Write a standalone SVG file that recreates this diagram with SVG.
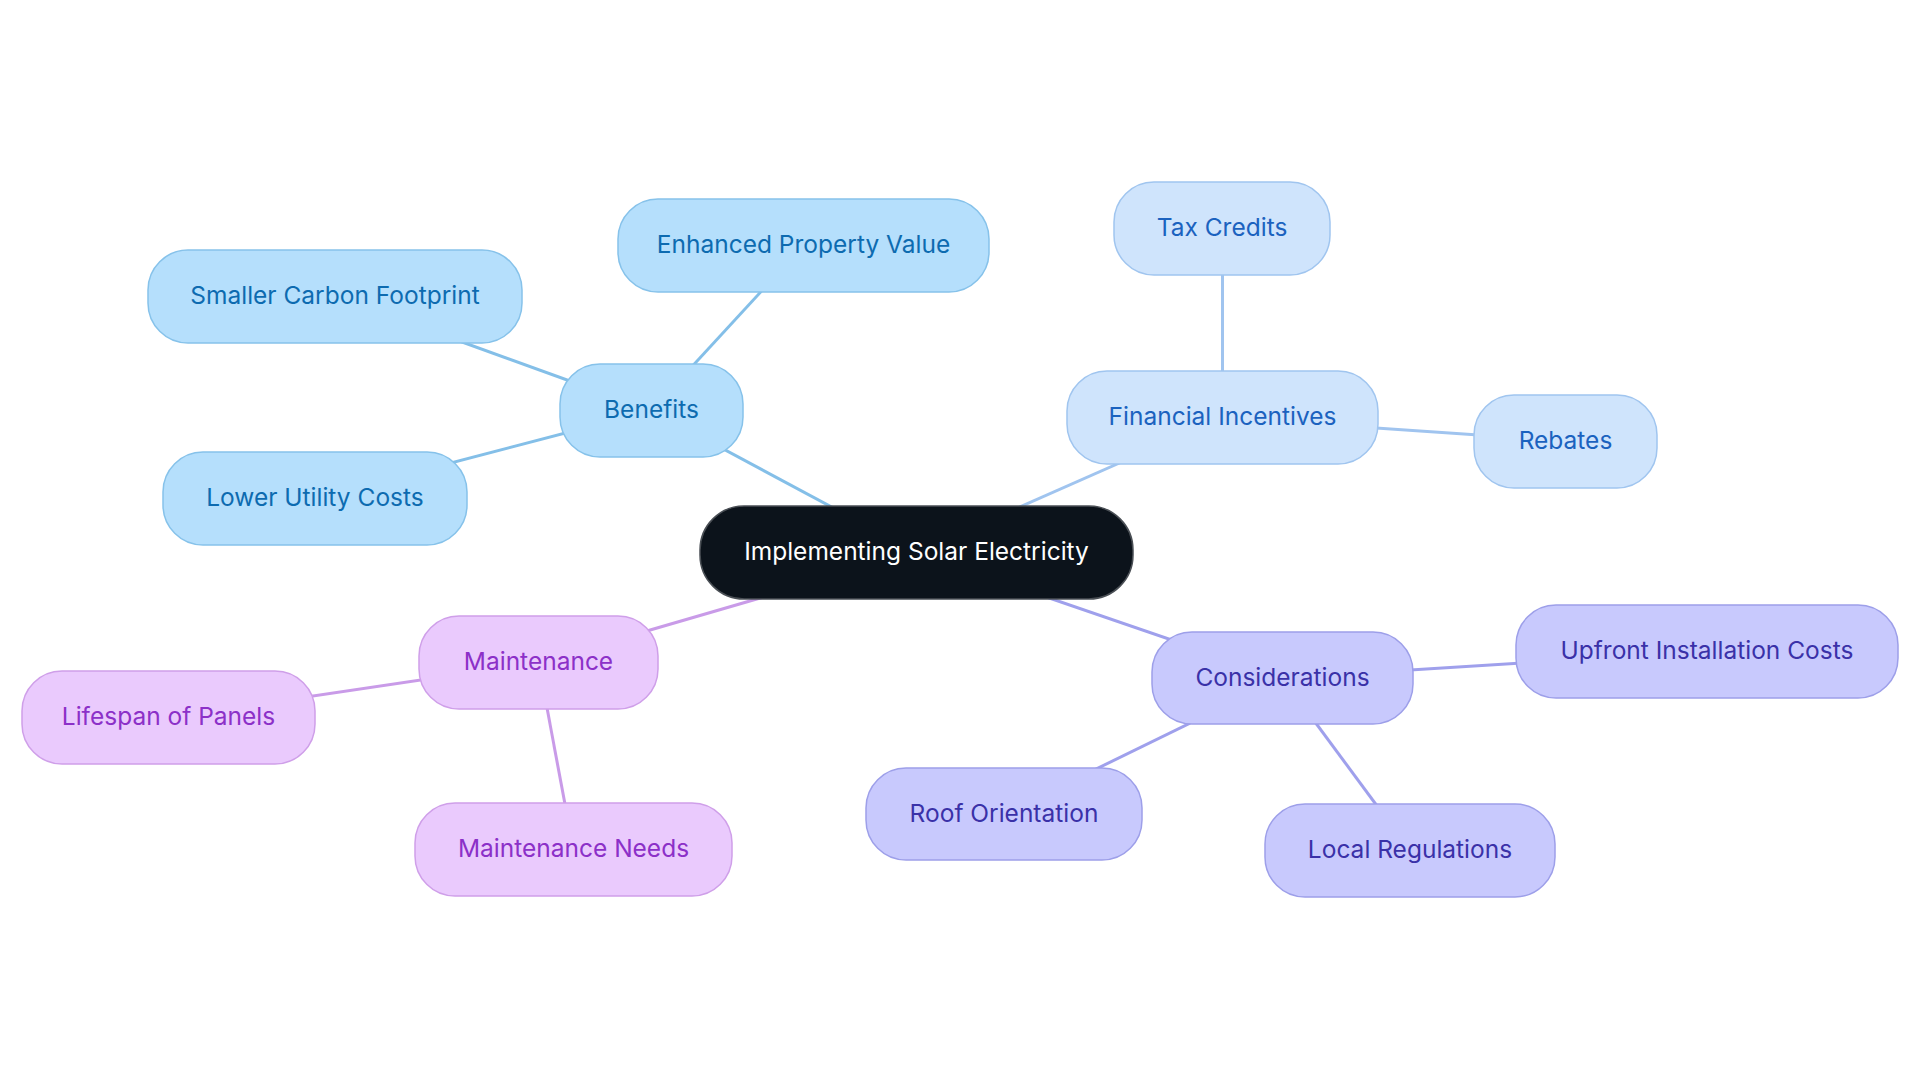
<svg xmlns="http://www.w3.org/2000/svg" width="1920" height="1083" viewBox="0 0 1920 1083">
<style>
text{font-family:Inter,"Noto Sans","Liberation Sans",sans-serif;font-size:24.5px;text-anchor:middle;dominant-baseline:central}
.e{stroke-width:3;fill:none}
.b rect{fill:#b5dffc;stroke:#86c2ea;stroke-width:1.5}
.b text{fill:#0d6bb0}
.f rect{fill:#cfe4fc;stroke:#a0c5ef;stroke-width:1.5}
.f text{fill:#1b62bf}
.c rect{fill:#c8c9fd;stroke:#9d9fe9;stroke-width:1.5}
.c text{fill:#3a31a8}
.m rect{fill:#eacafd;stroke:#cf9fe9;stroke-width:1.5}
.m text{fill:#8c30c8}
</style>
<rect width="1920" height="1083" fill="#fff"/>
<g id="connectors">
<line class="e" stroke="#84bfe8" x1="916.5" y1="552.5" x2="651.5" y2="410.5"/>
<line class="e" stroke="#84bfe8" x1="651.5" y1="410.5" x2="803.5" y2="245.5"/>
<line class="e" stroke="#84bfe8" x1="651.5" y1="410.5" x2="335" y2="296"/>
<line class="e" stroke="#84bfe8" x1="651.5" y1="410.5" x2="315" y2="498.5"/>
<line class="e" stroke="#a0c4ef" x1="916.5" y1="552.5" x2="1222.5" y2="417.5"/>
<line class="e" stroke="#a0c4ef" x1="1222.5" y1="417.5" x2="1222.5" y2="228"/>
<line class="e" stroke="#a0c4ef" x1="1222.5" y1="417.5" x2="1565.5" y2="441"/>
<line class="e" stroke="#9fa0ec" x1="916.5" y1="552.5" x2="1282.5" y2="678"/>
<line class="e" stroke="#9fa0ec" x1="1282.5" y1="678" x2="1707" y2="651.5"/>
<line class="e" stroke="#9fa0ec" x1="1282.5" y1="678" x2="1004" y2="814"/>
<line class="e" stroke="#9fa0ec" x1="1282.5" y1="678" x2="1410" y2="850.5"/>
<line class="e" stroke="#c99be8" x1="916.5" y1="552.5" x2="538.5" y2="662.5"/>
<line class="e" stroke="#c99be8" x1="538.5" y1="662.5" x2="168.5" y2="717.5"/>
<line class="e" stroke="#c99be8" x1="538.5" y1="662.5" x2="573.5" y2="849.5"/>
</g>
<g id="center">
<rect x="700" y="506" width="433" height="93" rx="44" fill="#0c131b" stroke="#4a4f55" stroke-width="1.5"/>
<text x="916.5" y="551" fill="#ffffff">Implementing Solar Electricity</text>
</g>
<g id="benefits" class="b"><rect x="560" y="364" width="183" height="93" rx="40"/><text x="651.5" y="409">Benefits</text></g>
<g id="enhanced-property-value" class="b"><rect x="618" y="199" width="371" height="93" rx="40"/><text x="803.5" y="244">Enhanced Property Value</text></g>
<g id="smaller-carbon-footprint" class="b"><rect x="148" y="250" width="374" height="93" rx="40"/><text x="335" y="294.5">Smaller Carbon Footprint</text></g>
<g id="lower-utility-costs" class="b"><rect x="163" y="452" width="304" height="93" rx="40"/><text x="315" y="497">Lower Utility Costs</text></g>
<g id="financial-incentives" class="f"><rect x="1067" y="371" width="311" height="93" rx="40"/><text x="1222.5" y="416">Financial Incentives</text></g>
<g id="tax-credits" class="f"><rect x="1114" y="182" width="216" height="93" rx="40"/><text x="1222" y="226.5">Tax Credits</text></g>
<g id="rebates" class="f"><rect x="1474" y="395" width="183" height="93" rx="40"/><text x="1565.5" y="439.5">Rebates</text></g>
<g id="considerations" class="c"><rect x="1152" y="632" width="261" height="92" rx="40"/><text x="1282.5" y="676.5">Considerations</text></g>
<g id="upfront-installation-costs" class="c"><rect x="1516" y="605" width="382" height="93" rx="40"/><text x="1707" y="650">Upfront Installation Costs</text></g>
<g id="roof-orientation" class="c"><rect x="866" y="768" width="276" height="92" rx="40"/><text x="1004" y="812.5">Roof Orientation</text></g>
<g id="local-regulations" class="c"><rect x="1265" y="804" width="290" height="93" rx="40"/><text x="1410" y="849">Local Regulations</text></g>
<g id="maintenance" class="m"><rect x="419" y="616" width="239" height="93" rx="40"/><text x="538.5" y="661">Maintenance</text></g>
<g id="lifespan-of-panels" class="m"><rect x="22" y="671" width="293" height="93" rx="40"/><text x="168.5" y="716">Lifespan of Panels</text></g>
<g id="maintenance-needs" class="m"><rect x="415" y="803" width="317" height="93" rx="40"/><text x="573.5" y="848">Maintenance Needs</text></g>
</svg>
